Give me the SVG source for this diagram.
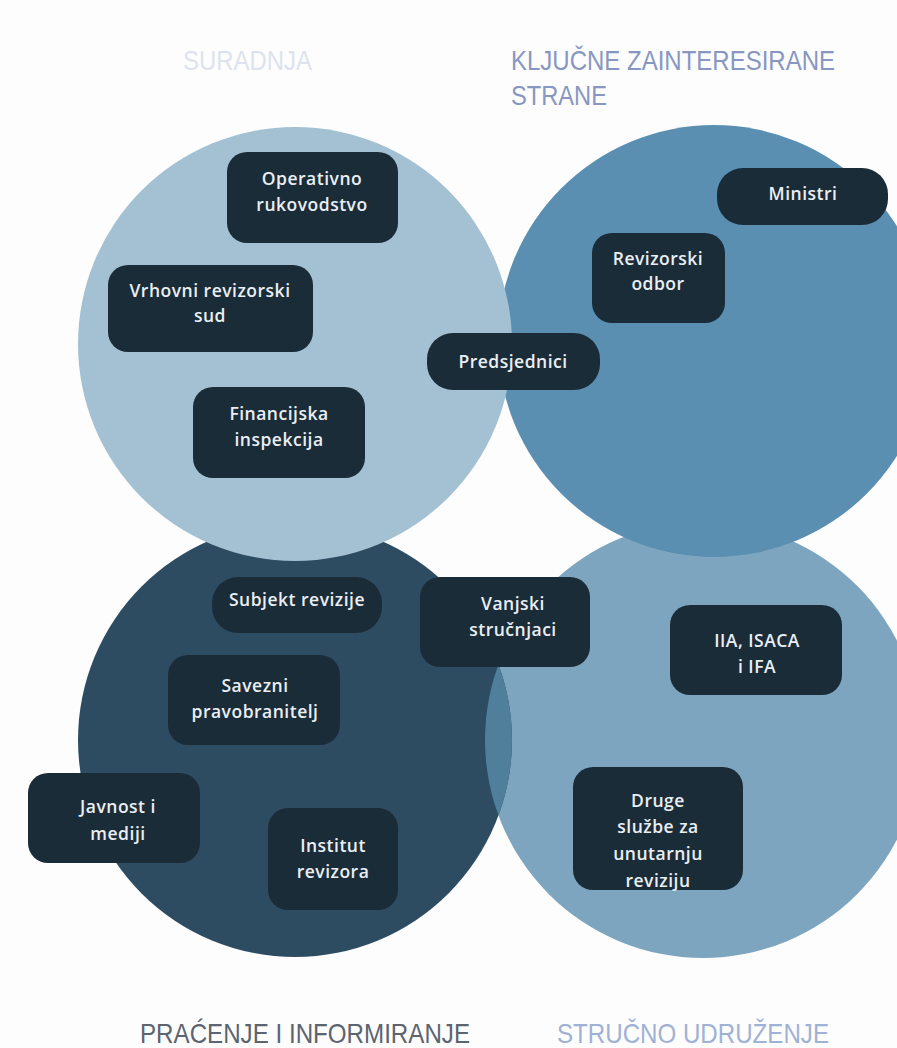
<svg xmlns="http://www.w3.org/2000/svg" width="897" height="1048" viewBox="0 0 897 1048">
  <style>
    .title { font-family: "Liberation Sans", Arial, sans-serif; font-size: 28px; }
    .box { fill: #1b2c39; }
    .lbl { font-family: "Open Sans", "Liberation Sans", sans-serif; font-weight: 600; font-size: 17.5px; letter-spacing: 0.5px; fill: #eaeff3; text-anchor: middle; }
  </style>
  <defs>
    <clipPath id="clip3">
      <circle cx="295" cy="740" r="217"/>
    </clipPath>
  </defs>
  <rect x="0" y="0" width="897" height="1048" fill="#fdfdfd"/>

  <g id="titles">
    <text class="title" x="183" y="70" fill="#dde3ee" textLength="129" lengthAdjust="spacingAndGlyphs">SURADNJA</text>
    <text class="title" x="511" y="70" fill="#8797c2" textLength="324" lengthAdjust="spacingAndGlyphs">KLJUČNE ZAINTERESIRANE</text>
    <text class="title" x="511" y="105" fill="#8797c2" textLength="96" lengthAdjust="spacingAndGlyphs">STRANE</text>
    <text class="title" x="140" y="1043" fill="#5c6470" textLength="330" lengthAdjust="spacingAndGlyphs">PRAĆENJE I INFORMIRANJE</text>
    <text class="title" x="557" y="1043" fill="#a0b1d6" textLength="272" lengthAdjust="spacingAndGlyphs">STRUČNO UDRUŽENJE</text>
  </g>

  <g id="circles">
    <circle id="c-strucno" cx="703" cy="740" r="218" fill="#7ea5bf"/>
    <circle id="c-pracenje" cx="295" cy="740" r="217" fill="#2e4c61"/>
    <circle cx="703" cy="740" r="218" fill="#4f7f9b" clip-path="url(#clip3)"/>
    <circle id="c-kljucne" cx="714" cy="341" r="216" fill="#5a8fb1"/>
    <circle id="c-suradnja" cx="295" cy="344" r="217" fill="#a3c1d3"/>
  </g>

  <g id="connectors"></g>

  <g id="n-operativno">
    <rect class="box" x="227" y="152" width="171" height="91" rx="20"/>
    <text class="lbl" x="312" y="185">Operativno</text>
    <text class="lbl" x="312" y="211">rukovodstvo</text>
  </g>
  <g id="n-vrhovni">
    <rect class="box" x="108" y="265" width="205" height="87" rx="20"/>
    <text class="lbl" x="210" y="297">Vrhovni revizorski</text>
    <text class="lbl" x="210" y="322">sud</text>
  </g>
  <g id="n-financijska">
    <rect class="box" x="193" y="387" width="172" height="91" rx="20"/>
    <text class="lbl" x="279" y="420">Financijska</text>
    <text class="lbl" x="279" y="446">inspekcija</text>
  </g>
  <g id="n-predsjednici">
    <rect class="box" x="427" y="333" width="173" height="57" rx="26"/>
    <text class="lbl" x="513" y="368">Predsjednici</text>
  </g>
  <g id="n-ministri">
    <rect class="box" x="717" y="168" width="171" height="57" rx="26"/>
    <text class="lbl" x="803" y="200">Ministri</text>
  </g>
  <g id="n-revizorski-odbor">
    <rect class="box" x="592" y="233" width="133" height="90" rx="20"/>
    <text class="lbl" x="658" y="265">Revizorski</text>
    <text class="lbl" x="658" y="290">odbor</text>
  </g>
  <g id="n-subjekt">
    <rect class="box" x="212" y="577" width="170" height="56" rx="26"/>
    <text class="lbl" x="297" y="606">Subjekt revizije</text>
  </g>
  <g id="n-vanjski">
    <rect class="box" x="420" y="577" width="170" height="90" rx="20"/>
    <text class="lbl" x="513" y="610">Vanjski</text>
    <text class="lbl" x="513" y="636">stručnjaci</text>
  </g>
  <g id="n-savezni">
    <rect class="box" x="168" y="655" width="172" height="90" rx="20"/>
    <text class="lbl" x="255" y="692">Savezni</text>
    <text class="lbl" x="255" y="718">pravobranitelj</text>
  </g>
  <g id="n-javnost">
    <rect class="box" x="28" y="773" width="172" height="90" rx="20"/>
    <text class="lbl" x="118" y="813">Javnost i</text>
    <text class="lbl" x="118" y="840">mediji</text>
  </g>
  <g id="n-institut">
    <rect class="box" x="268" y="808" width="130" height="102" rx="20"/>
    <text class="lbl" x="333" y="852">Institut</text>
    <text class="lbl" x="333" y="878">revizora</text>
  </g>
  <g id="n-iia">
    <rect class="box" x="670" y="605" width="172" height="90" rx="20"/>
    <text class="lbl" x="757" y="647">IIA, ISACA</text>
    <text class="lbl" x="757" y="673">i IFA</text>
  </g>
  <g id="n-druge">
    <rect class="box" x="573" y="767" width="170" height="123" rx="20"/>
    <text class="lbl" x="658" y="807">Druge</text>
    <text class="lbl" x="658" y="833">službe za</text>
    <text class="lbl" x="658" y="860">unutarnju</text>
    <text class="lbl" x="658" y="887">reviziju</text>
  </g>
</svg>
